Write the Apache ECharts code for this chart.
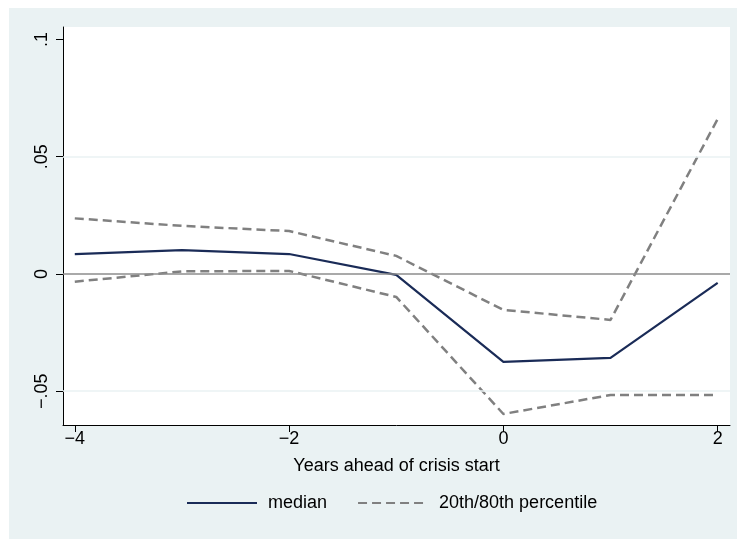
<!DOCTYPE html>
<html>
<head>
<meta charset="utf-8">
<script src="https://cdn.jsdelivr.net/npm/echarts@6/dist/echarts.min.js"></script>
<style>html,body{margin:0;padding:0;background:#fff}#c{width:737px;height:539px}</style>
</head>
<body>
<div id="c"></div>
<script>
const years = [-4, -3, -2, -1, 0, 1, 2];
const median = [0.0085, 0.0102, 0.0085, -0.0004, -0.0375, -0.0358, -0.0038];
const p80 = [0.0237, 0.0205, 0.0183, 0.0077, -0.0153, -0.0196, 0.0661];
const p20 = [-0.0033, 0.0011, 0.0013, -0.0098, -0.0597, -0.0516, -0.0516];
const xTicks = [-4, -2, 0, 2];
const yTicks = [-0.05, 0, 0.05, 0.1];
const yGrid = [-0.05, 0.05];
const yRef = 0;

const font = 'Liberation Sans, Arial, Helvetica, sans-serif';
const pairs = arr => years.map((x, i) => [x, arr[i]]);
const fmt = v => {
  if (Math.abs(v) < 1e-12) return '0';
  const s = String(+Math.abs(v).toFixed(4)).replace(/^0/, '');
  return (v < 0 ? '\u2212' : '') + s;
};

const navy = '#1a2b57';
const gray = '#808080';

const chart = echarts.init(document.getElementById('c'), null, {renderer: 'canvas'});
chart.setOption({
  animation: false,
  backgroundColor: '#ffffff',
  graphic: [{
    type: 'rect', z: -10, silent: true,
    shape: {x: 9, y: 8, width: 728, height: 531},
    style: {fill: '#EAF2F3'}
  }],
  grid: {left: 63, top: 27, right: 7, bottom: 114, show: true, backgroundColor: '#ffffff', borderWidth: 0},
  xAxis: {
    type: 'value', min: -4.11, max: 2.115,
    name: 'Years ahead of crisis start', nameLocation: 'middle', nameGap: 32,
    nameTextStyle: {fontFamily: font, fontSize: 18, color: '#000'},
    axisLine: {show: true, onZero: false, lineStyle: {color: '#000', width: 1}},
    axisTick: {show: true, length: 7, customValues: xTicks, lineStyle: {color: '#000'}},
    axisLabel: {customValues: xTicks, formatter: fmt, fontFamily: font, fontSize: 18, color: '#000', margin: 5},
    splitLine: {show: false}
  },
  yAxis: {
    type: 'value', min: -0.0644, max: 0.1053,
    axisLine: {show: true, onZero: false, lineStyle: {color: '#000', width: 1}},
    axisTick: {show: true, length: 7, customValues: yTicks, lineStyle: {color: '#000'}},
    axisLabel: {customValues: yTicks, formatter: fmt, rotate: 90, fontFamily: font, fontSize: 18, color: '#000', margin: 12},
    splitLine: {show: false}
  },
  legend: {
    show: true, padding: 0,
    left: 186, top: 494, itemWidth: 70, itemHeight: 14, itemGap: 30,
    itemStyle: {opacity: 0},
    textStyle: {fontFamily: font, fontSize: 18, color: '#000', padding: [0, 0, 0, 6]},
    data: ['median', '20th/80th percentile']
  },
  series: [
    {
      type: 'line', name: 'refs', data: [], z: 1, silent: true,
      markLine: {
        silent: true, symbol: 'none', label: {show: false},
        data: yGrid.map(v => ({yAxis: v, lineStyle: {color: '#EAF2F3', width: 1.5, type: 'solid'}}))
          .concat([{yAxis: yRef, lineStyle: {color: '#8c8c8c', width: 1.5, type: 'solid'}}])
      }
    },
    {
      type: 'line', name: '20th/80th percentile', data: pairs(p80), z: 3,
      symbol: 'none', lineStyle: {color: gray, width: 2.5, type: [9, 5]},
      itemStyle: {color: gray}
    },
    {
      type: 'line', name: '20th/80th percentile', data: pairs(p20), z: 3,
      symbol: 'none', lineStyle: {color: gray, width: 2.5, type: [9, 5]},
      itemStyle: {color: gray}
    },
    {
      type: 'line', name: 'median', data: pairs(median), z: 4,
      symbol: 'none', lineStyle: {color: navy, width: 2.2},
      itemStyle: {color: navy}
    }
  ]
});
</script>
</body>
</html>
